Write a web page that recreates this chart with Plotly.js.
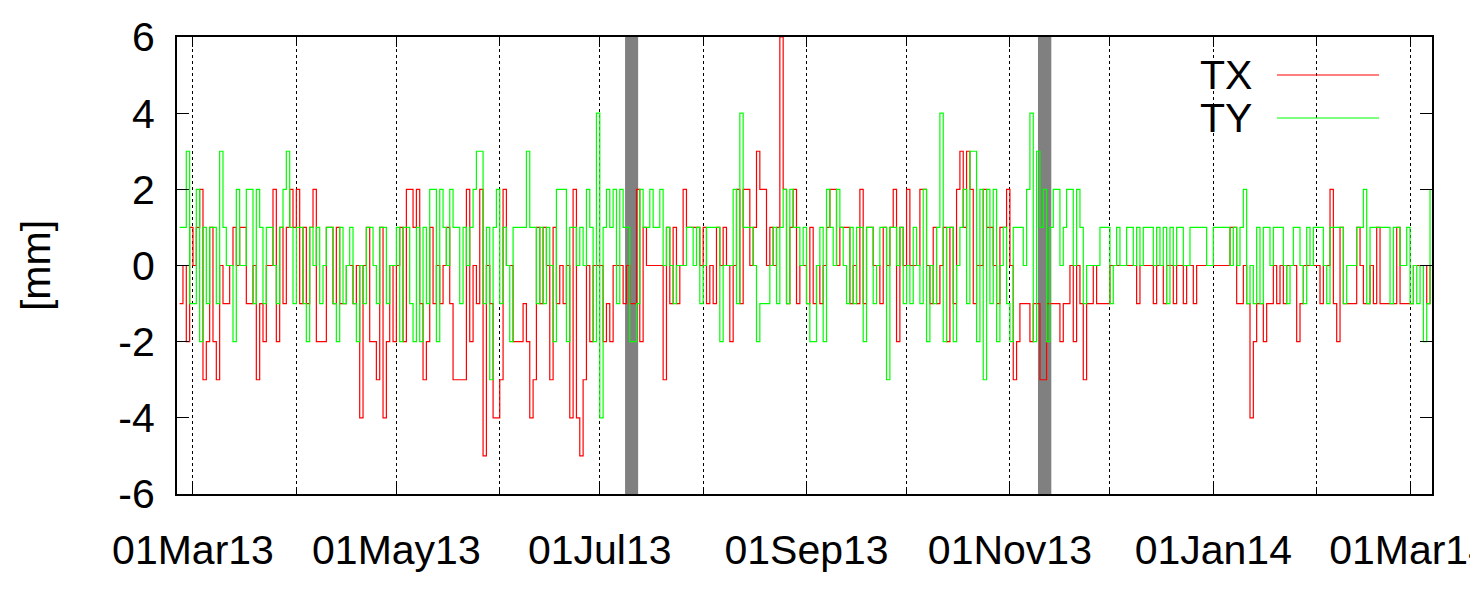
<!DOCTYPE html>
<html>
<head>
<meta charset="utf-8">
<script src="https://cdn.plot.ly/plotly-3.0.1.min.js"></script>
<style>html,body{margin:0;padding:0;background:#fff;}#chart{width:1470px;height:593px;}</style>
</head>
<body>
<div id="chart"></div>
<script>
// Daily series, first value on this date
const startDate = '2013-02-25';
// TX [mm]
const tx = [
 -1,0,-2,1,0, 1,2,-3,-2,1, -2,-3,0,-1,-1, 0,1,0,1,1, -1,-1,0,-3,-1, -2,0,0,2,-2, 1,-1,1,
 2,1,2,-1,1, -1,1,2,-2,-2, -2,1,1,-1,1, -1,-1,0,0,-1, 0,-4,0,1,-2, -2,-3,1,-4,-2, 0,-2,0,1,-2,
 2,2,1,2,-1, -3,-2,1,-1,0, -1,0,1,-1,-3, -3,-3,-3,2,-2, 0,-1,2,-5,0, -1,-4,-4,-3,2, 0,0,-2,-2,
 -2,-1,-2,-4,-3, 1,-1,1,0,-3, 1,-1,0,-1,0, -4,2,-4,-5,-3, 0,-2,0,0,0, -2,-1,-2,0,0, 0,-1,0,-1,-1,
 2,-2,1,0,0, 0,0,0,-3,1, -1,1,-1,0,2, 1,1,1,1,0, 1,-1,0,-1,1, 0,1,0,-2,0, 2,-1,2,
 2,0,1,3,2, 2,0,1,0,1, 6,2,-1,1,2, -1,0,0,-1,1, -1,0,-1,0,1, 2,2,0,1,1, 1,-1,0,-1,2,
 -1,1,1,0,0, -1,1,0,1,2, -2,1,0,2,0, 0,0,2,2,0, -1,1,-1,0,1, -2,1,-1,2,3, 1,3,2,-1,
 0,0,2,1,1, 0,-1,1,1,2, 0,-3,-2,-1,-1, -1,-2,-1,-1,-3, -3,-1,-1,-1,-1, -2,-1,-1,0,-2, 0,-1,-3,-1,
 -1,0,-1,-1,-1, -1,0,0,0,0, 0,0,0,0,-1, 0,0,0,0,-1, 0,0,-1,0,0, -1,0,0,-1,0, 0,-1,0,0,
 0,0,0,0,0, 0,0,0,1,1, -1,-1,0,-1,-4, -2,-1,-1,-2,-1, -1,0,-1,0,-1, 0,0,0,-2,-1, 0,0,0,0,
 0,-1,0,0,2, -1,-2,1,-1,-1, -1,-1,1,0,-1, -1,0,-1,1,-1, -1,-1,-1,-1,1, -1,-1,-1,-1,0, 0,0,0,-1,0
];
// TY [mm]
const ty = [
 1,1,3,-1,-1, 2,-2,1,-1,1, 1,-1,3,1,0, 0,-2,2,0,0, 2,2,-1,2,1, -1,1,1,0,-1, 1,2,3,
 1,-1,1,1,-1, -2,1,0,1,-1, 0,1,1,-1,-2, 1,-1,0,1,-1, -2,0,-1,1,1, 0,-1,1,1,-1, 0,0,1,-2,1,
 1,-1,-2,1,-2, 1,-1,2,2,-2, 2,1,0,2,1, 1,-1,1,0,1, 2,3,3,-1,1, -3,1,2,-1,1, 0,-2,1,1,
 1,1,3,1,1, -1,1,-1,1,0, -2,2,2,2,-2, 1,1,0,1,0, 2,1,-2,4,-4, 1,2,1,2,-1, 2,1,1,-2,-2,
 -1,2,1,1,2, 1,1,2,0,1, 0,-1,0,0,0, 1,1,0,1,-1, 0,1,1,1,1, -2,0,0,0,2, -1,4,1,
 1,1,0,-2,-1, -1,-1,0,1,-1, 1,2,-1,2,1, 1,0,1,-1,-2, -2,0,1,-2,2, 1,0,2,1,0, -1,1,-1,1,1,
 -2,1,1,-1,0, 1,1,-3,1,1, 0,1,-1,0,-1, 1,0,-1,2,-2, 0,-1,1,4,-2, 1,1,-2,0,1, 2,-1,3,3,
 -2,2,-3,2,-1, 2,-2,0,1,-1, -2,1,1,1,0, 2,4,-2,3,1, 2,-2,1,2,2, 0,1,2,2,0, 2,1,-1,0,
 0,0,0,1,1, 1,-1,0,1,0, 0,1,1,0,1, 0,1,1,1,0, 1,0,1,-1,1, 0,1,1,0,0, 1,1,1,1,
 1,0,0,1,1, 1,1,1,0,1, 0,1,2,-1,0, -1,1,-1,1,1, 0,1,1,1,0, -1,0,1,1,0, -1,1,0,1,
 1,1,0,-1,1, 1,1,1,-1,0, 0,0,1,1,2, -1,1,1,1,1, 1,1,-1,1,1, 0,0,1,-1,0, -1,0,-2,-1,2
];
// Shaded periods
const gapStarts = ['2013-07-08 14:00', '2013-11-09 10:00'];
const gapEnds   = ['2013-07-12 12:00', '2013-11-13 10:00'];
const seriesNames = ['TX', 'TY'];
const seriesColors = ['#ff0000', '#00ff00'];
const yTicks = [-6, -4, -2, 0, 2, 4, 6];
const xRange = ['2013-02-24 05:00', '2014-03-07 14:00'];

function dayList(start, n) {
  const out = [];
  const d0 = new Date(start + 'T00:00:00Z');
  for (let i = 0; i < n; i++) {
    const d = new Date(d0.getTime() + i * 86400000);
    out.push(d.toISOString().slice(0, 10));
  }
  return out;
}
const dates = dayList(startDate, tx.length);

const FONT = 'Liberation Sans, Arial, sans-serif';
const FS = 41;
const traces = [tx, ty].map((vals, k) => ({
  type: 'scatter', mode: 'lines', x: dates, y: vals, name: seriesNames[k],
  line: {color: seriesColors[k], width: 1.2, shape: 'hv'}, showlegend: false, hoverinfo: 'skip'
}));

const shapes = gapStarts.map((s, k) => ({
  type: 'rect', xref: 'x', yref: 'paper', x0: s, x1: gapEnds[k], y0: 0, y1: 1,
  fillcolor: '#808080', line: {width: 0}, layer: 'below'
}));
// custom legend samples (gnuplot style: text left, line right)
const legY = [0.9168, 0.8228];
seriesNames.forEach((n, k) => {
  shapes.push({type: 'line', xref: 'paper', yref: 'paper', x0: 0.8765, x1: 0.9578,
    y0: legY[k], y1: legY[k], line: {color: seriesColors[k], width: 1.2}});
});
const annotations = seriesNames.map((n, k) => ({
  xref: 'paper', yref: 'paper', x: 0.858, y: legY[k], xanchor: 'right', yanchor: 'middle',
  text: n, showarrow: false, font: {family: FONT, size: FS, color: '#000'}
}));

const layout = {
  width: 1470, height: 593,
  margin: {l: 177, r: 38, t: 37, b: 99},
  paper_bgcolor: '#fff', plot_bgcolor: '#fff',
  font: {family: FONT, size: FS, color: '#000'},
  showlegend: false,
  xaxis: {
    type: 'date', range: xRange,
    tickformat: '%d%b%y', dtick: 'M2', tick0: '2013-03-01',
    ticks: 'inside', ticklen: 10, tickwidth: 1, tickcolor: '#000',
    showline: true, linecolor: '#000', linewidth: 2, mirror: 'ticks',
    showgrid: true, gridcolor: '#000', gridwidth: 1, griddash: 'dot',
    minor: {dtick: 'M1', tick0: '2013-03-01', ticks: 'inside', ticklen: 6, tickcolor: '#000',
            showgrid: true, gridcolor: '#000', gridwidth: 1, griddash: 'dot'},
    zeroline: false, ticklabelstandoff: 19, ticklabeloverflow: 'allow',
    tickfont: {family: FONT, size: FS, color: '#000'}
  },
  yaxis: {
    range: [-6, 6], tickvals: yTicks, ticktext: yTicks.map(String),
    ticks: 'inside', ticklen: 12, tickwidth: 1, tickcolor: '#000',
    showline: true, linecolor: '#000', linewidth: 2, mirror: 'ticks',
    showgrid: false, zeroline: false, ticklabelstandoff: 12,
    tickfont: {family: FONT, size: FS, color: '#000'},
    title: {text: '[mm]', font: {family: FONT, size: FS, color: '#000'}, standoff: 55}
  },
  shapes: shapes,
  annotations: annotations
};
Plotly.newPlot('chart', traces, layout, {staticPlot: true, displayModeBar: false});
</script>
</body>
</html>
